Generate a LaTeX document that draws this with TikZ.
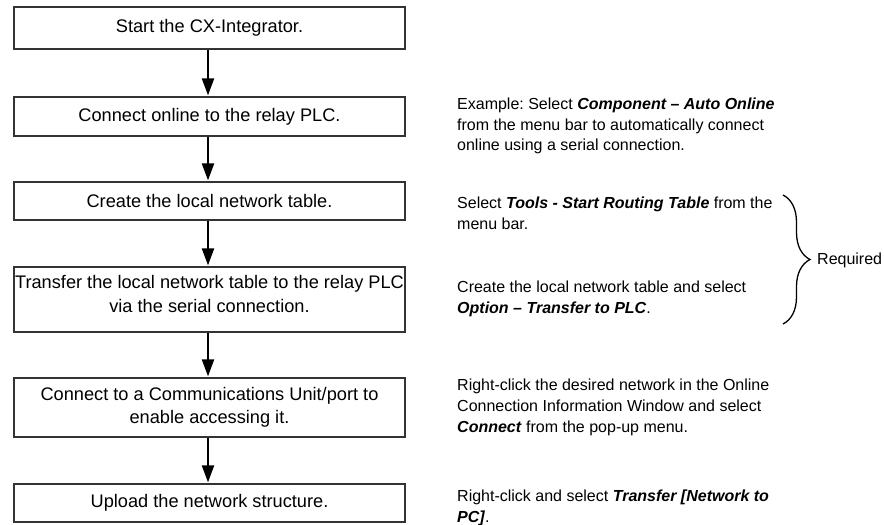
\documentclass[tikz,border=0pt]{standalone}
\usepackage{fontspec}
\setmainfont{Liberation Sans}
\usetikzlibrary{arrows.meta,decorations.pathreplacing}
\tikzset{
  stepbox/.style={draw=black!80, line width=1.2pt, minimum width=391pt, inner sep=0pt,
     align=center, font=\fontsize{18.2}{23.5}\selectfont},
  flow/.style={line width=2pt, -{Triangle[width=12pt,length=17pt]}, shorten >=1pt},
  note/.style={anchor=west, inner sep=0pt, align=left, font=\fontsize{16}{20.8}\selectfont},
}
\newcommand{\bit}[1]{\textbf{\textit{#1}}}
\frenchspacing
\begin{document}
\begin{tikzpicture}[x=1pt,y=-1pt]
\useasboundingbox (0,0) rectangle (884,525);
\node[stepbox, minimum height=42pt] (b1) at (209.5,28) {Start the CX-Integrator.};
\node[stepbox, minimum height=39pt] (b2) at (209.5,116.5) {Connect online to the relay PLC.};
\node[stepbox, minimum height=38pt] (b3) at (209.5,201) {Create the local network table.};
\node[stepbox, minimum height=65pt] (b4) at (209.5,299.5) {};
\node[inner sep=0pt, align=center, font=\fontsize{18.2}{23.5}\selectfont] (t4) at (209.5,294)
  {Transfer the local network table to the relay PLC\\via the serial connection.};
\node[stepbox, minimum height=59pt] (b5) at (209.5,407.5) {Connect to a Communications Unit/port to\\enable accessing it.};
\node[stepbox, minimum height=38pt] (b6) at (209.5,503) {Upload the network structure.};
\draw[flow] (b1.south -| 208,0) -- (b2.north -| 208,0);
\draw[flow] (b2.south -| 208,0) -- (b3.north -| 208,0);
\draw[flow] (b3.south -| 208,0) -- (b4.north -| 208,0);
\draw[flow] (b4.south -| 208,0) -- (b5.north -| 208,0);
\draw[flow] (b5.south -| 208,0) -- (b6.north -| 208,0);

\node[note] (n1) at (457,126) {Example: Select \bit{Component – Auto Online}\\from the menu bar to automatically connect\\online using a serial connection.};
\node[note] (n2) at (457,213) {Select \bit{Tools - Start Routing Table} from the\\menu bar.};
\node[note] (n3) at (457,298.5) {Create the local network table and select\\\bit{Option – Transfer to PLC}.};
\node[note] (n4) at (457,407.5) {Right-click the desired network in the Online\\Connection Information Window and select\\\bit{Connect} from the pop-up menu.};
\node[note] (n5) at (457,507.5) {Right-click and select \bit{Transfer [Network to}\\\bit{PC]}.};

\coordinate (bt) at (783,195);
\coordinate (bb) at (783,324);
\draw[line width=1.3pt, decorate, decoration={brace, amplitude=27pt}] (bt) -- (bb);
\node[note] (req) at (817,260) {Required};
\end{tikzpicture}
\end{document}
